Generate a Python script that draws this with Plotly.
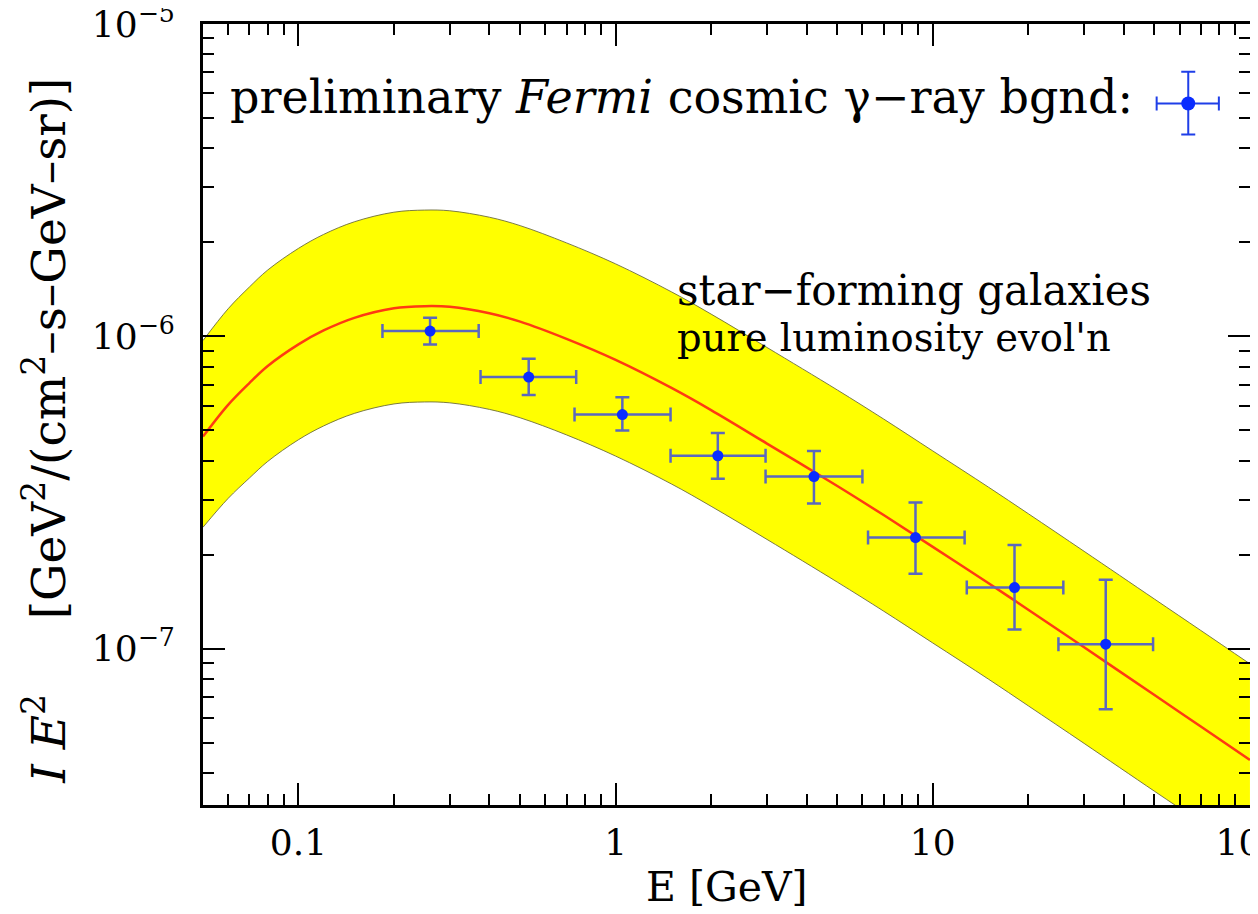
import plotly.graph_objects as go

# ---- model curve (star-forming galaxies, pure luminosity evolution) ----
E_grid = [0.05, 0.06, 0.07, 0.08, 0.1, 0.12, 0.15, 0.2, 0.25, 0.3, 0.4, 0.5, 0.7,
          1, 1.5, 2, 3, 5, 7, 10, 15, 20, 30, 50, 70, 100]
model_I = [4.78e-7, 6.04e-7, 7.09e-7, 8.04e-7, 9.43e-7, 1.045e-6, 1.147e-6, 1.231e-6,
           1.250e-6, 1.244e-6, 1.186e-6, 1.115e-6, 9.82e-7, 8.41e-7, 6.84e-7, 5.81e-7,
           4.54e-7, 3.32e-7, 2.68e-7, 2.12e-7, 1.622e-7, 1.334e-7, 1.011e-7, 7.11e-8,
           5.64e-8, 4.41e-8]
band_upper = [9.70e-7, 1.226e-6, 1.439e-6, 1.632e-6, 1.914e-6, 2.121e-6, 2.328e-6, 2.499e-6,
              2.538e-6, 2.525e-6, 2.408e-6, 2.263e-6, 1.993e-6, 1.707e-6, 1.389e-6, 1.179e-6,
              9.22e-7, 6.74e-7, 5.44e-7, 4.30e-7, 3.29e-7, 2.708e-7, 2.052e-7, 1.443e-7,
              1.145e-7, 8.95e-8]
band_lower = [2.45e-7, 3.03e-7, 3.52e-7, 3.98e-7, 4.67e-7, 5.17e-7, 5.67e-7, 6.08e-7,
              6.17e-7, 6.13e-7, 5.84e-7, 5.49e-7, 4.84e-7, 4.14e-7, 3.37e-7, 2.86e-7,
              2.24e-7, 1.635e-7, 1.320e-7, 1.044e-7, 7.99e-8, 6.57e-8, 4.98e-8, 3.50e-8,
              2.78e-8, 2.17e-8]

# ---- preliminary Fermi data ----
E_data = [0.260, 0.532, 1.05, 2.10, 4.22, 8.82, 18.1, 35.1]
E_low = [0.184, 0.375, 0.742, 1.49, 2.97, 6.25, 12.8, 24.9]
E_high = [0.370, 0.751, 1.49, 2.97, 6.00, 12.6, 25.8, 49.5]
I_data = [1.04e-6, 7.41e-7, 5.62e-7, 4.15e-7, 3.56e-7, 2.27e-7, 1.57e-7, 1.035e-7]
I_high = [1.148e-6, 8.48e-7, 6.39e-7, 4.91e-7, 4.30e-7, 2.94e-7, 2.15e-7, 1.664e-7]
I_low = [9.42e-7, 6.50e-7, 5.00e-7, 3.50e-7, 2.92e-7, 1.74e-7, 1.153e-7, 6.41e-8]

# ---- key symbol ----
key_E = [63.9]
key_E_low = [50.8]
key_E_high = [79.8]
key_I = [5.57e-6]
key_I_low = [4.43e-6]
key_I_high = [7.03e-6]

# ---- axis ticks ----
x_tickvals = [0.1, 1, 10, 100]
x_ticktext = ["0.1", "1", "10", "100"]
y_tickvals = [1e-7, 1e-6, 1e-5]
y_ticktext = ["10<sup>\u22127</sup>", "10<sup>\u22126</sup>", "10<sup>\u22125</sup>"]

FONT = "DejaVu Serif"
ERR_COLOR = "#5b68bd"
PT_COLOR = "#0a2cff"

fig = go.Figure()

fig.add_trace(go.Scatter(x=E_grid, y=band_lower, mode="lines",
                         line=dict(color="rgba(110,110,60,0.9)", width=1, shape="spline"),
                         showlegend=False, hoverinfo="skip"))
fig.add_trace(go.Scatter(x=E_grid, y=band_upper, mode="lines", fill="tonexty",
                         fillcolor="#ffff00",
                         line=dict(color="rgba(110,110,60,0.9)", width=1, shape="spline"),
                         showlegend=False, hoverinfo="skip"))
fig.add_trace(go.Scatter(x=E_grid, y=model_I, mode="lines",
                         line=dict(color="#ff3a12", width=2.5, shape="spline"),
                         showlegend=False, hoverinfo="skip"))

fig.add_trace(go.Scatter(
    x=E_data, y=I_data, mode="markers",
    marker=dict(color=PT_COLOR, size=11, symbol="circle"),
    error_x=dict(type="data", symmetric=False,
                 array=[h - c for h, c in zip(E_high, E_data)],
                 arrayminus=[c - l for c, l in zip(E_data, E_low)],
                 color=ERR_COLOR, thickness=2.5, width=7),
    error_y=dict(type="data", symmetric=False,
                 array=[h - c for h, c in zip(I_high, I_data)],
                 arrayminus=[c - l for c, l in zip(I_data, I_low)],
                 color=ERR_COLOR, thickness=2.5, width=7),
    showlegend=False))

fig.add_trace(go.Scatter(
    x=key_E, y=key_I, mode="markers",
    marker=dict(color=PT_COLOR, size=14, symbol="circle"),
    error_x=dict(type="data", symmetric=False,
                 array=[key_E_high[0] - key_E[0]], arrayminus=[key_E[0] - key_E_low[0]],
                 color="#1f3fe8", thickness=2, width=7),
    error_y=dict(type="data", symmetric=False,
                 array=[key_I_high[0] - key_I[0]], arrayminus=[key_I[0] - key_I_low[0]],
                 color="#1f3fe8", thickness=2, width=7),
    showlegend=False))

axis_common = dict(
    type="log", showline=True, linecolor="black", linewidth=3, mirror="allticks",
    ticks="inside", ticklen=22, tickwidth=2, tickcolor="black",
    showgrid=False, zeroline=False, ticklabeloverflow="allow", automargin=False,
    minor=dict(ticks="inside", ticklen=11, tickwidth=2, tickcolor="black",
               dtick="D1", showgrid=False),
    tickfont=dict(family=FONT, size=36, color="black"),
)

fig.update_xaxes(**axis_common, range=[-1.30103, 2.0002], tickvals=x_tickvals,
                 ticktext=x_ticktext, ticklabelstandoff=4)
fig.update_yaxes(**axis_common, range=[-7.5, -4.9998], tickvals=y_tickvals,
                 ticktext=y_ticktext, ticklabelstandoff=18)

annos = [
    dict(text="preliminary <i>Fermi</i> cosmic \u03b3\u2212ray bgnd:", x=0.0239, y=0.907,
         xanchor="left", yanchor="middle", font=dict(size=46)),
    dict(text="star\u2212forming galaxies", x=0.4508, y=0.659,
         xanchor="left", yanchor="middle", font=dict(size=42)),
    dict(text="pure luminosity evol'n", x=0.4508, y=0.598,
         xanchor="left", yanchor="middle", font=dict(size=38.5)),
    dict(text="E [GeV]", x=0.5, y=-0.105, xanchor="center", yanchor="middle",
         font=dict(size=41)),
    dict(text="<i>I E</i><sup>2</sup>\u00a0\u00a0\u00a0\u00a0\u00a0[GeV<sup>2</sup>/(cm<sup>2</sup>\u2013s\u2013GeV\u2013sr)]",
         x=-0.151, y=0.479, xanchor="center", yanchor="middle", textangle=-90,
         font=dict(size=47)),
]
for a in annos:
    a.setdefault("xref", "paper")
    a.setdefault("yref", "paper")
    a["showarrow"] = False
    a["font"] = dict(family=FONT, color="black", **a["font"])
    fig.add_annotation(**a)

# page body adds an 8px margin, so the figure is 8px smaller and its
# margins are offset to keep the plot frame where the reference has it
fig.update_layout(
    width=1250, height=906, autosize=False,
    margin=dict(l=195, r=8, t=16, b=109, autoexpand=False),
    paper_bgcolor="white", plot_bgcolor="white",
    showlegend=False,
)

fig.write_html("out.html")
